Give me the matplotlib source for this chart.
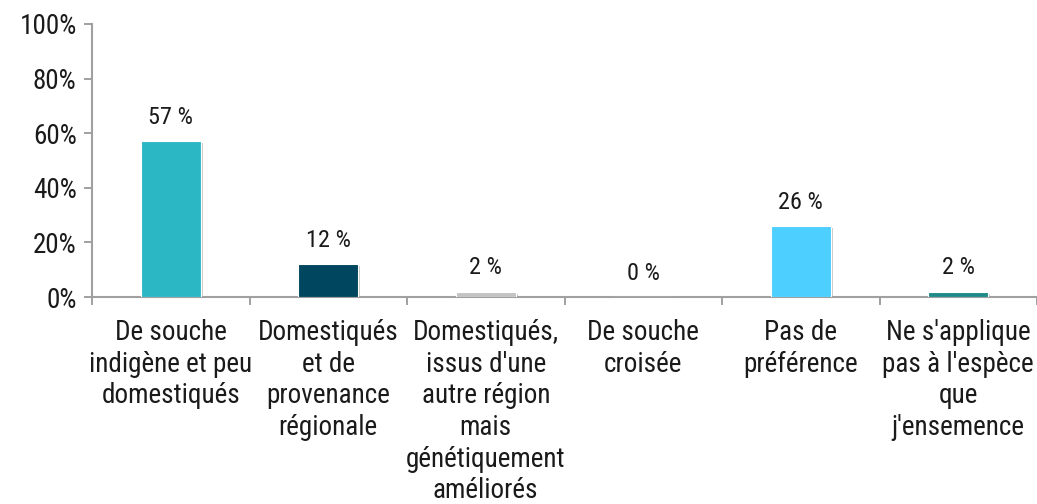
import matplotlib
matplotlib.use("Agg")
import matplotlib.pyplot as plt
import matplotlib.patheffects as pe
from matplotlib import font_manager
import numpy as np

# Category labels, shares (%) and bar colours
categories = [
    "De souche\nindigène et peu\ndomestiqués",
    "Domestiqués\net de\nprovenance\nrégionale",
    "Domestiqués,\nissus d'une\nautre région\nmais\ngénétiquement\naméliorés",
    "De souche\ncroisée",
    "Pas de\npréférence",
    "Ne s'applique\npas à l'espèce\nque\nj'ensemence",
]
shares = [57, 12, 2, 0, 26, 2]
colors = ["#2BB8C4", "#00465E", "#C3C3C3", "#2BB8C4", "#4DCFFF", "#1E8A8A"]
yticks = [0, 20, 40, 60, 80, 100]

# pick a condensed sans-serif that is actually installed
names = {f.name for f in font_manager.fontManager.ttflist}
wanted = ["Arial Narrow", "Liberation Sans Narrow", "Roboto Condensed",
          "PT Sans Narrow", "Archivo Narrow", "Asap Condensed"]
narrow = next((n for n in wanted if n in names), "DejaVu Sans")
plt.rcParams["font.family"] = [narrow, "DejaVu Sans"]

fig = plt.figure(figsize=(10.37, 5.04), dpi=100)
ax = fig.add_axes([92 / 1037, 207 / 504, 1 - 92 / 1037, 273 / 504])

x = np.arange(len(categories))
shadow = [pe.SimplePatchShadow(offset=(1.5, -1.5), shadow_rgbFace="#999999", alpha=0.5), pe.Normal()]
bars = ax.bar(x, shares, width=0.38, color=colors, edgecolor="white", linewidth=0.8, zorder=3)
for b in bars:
    b.set_path_effects(shadow)

for xi, v in zip(x, shares):
    ax.annotate(f"{v} %", (xi, v), xytext=(0, 9), textcoords="offset points",
                ha="center", va="bottom", fontsize=17.5, color="#1a1a1a")

ax.set_xlim(-0.5, len(categories) - 0.5)
ax.set_ylim(0, 100)
ax.set_yticks(yticks)
ax.set_yticklabels([f"{t}%" for t in yticks], fontsize=19.5, color="#1a1a1a")

ax.set_xticks(x)
ax.set_xticklabels(categories, fontsize=19.5, color="#1a1a1a", linespacing=1.22)
ax.tick_params(axis="x", which="major", length=0, pad=16)
ax.set_xticks(np.arange(len(categories) + 1) - 0.5, minor=True)
ax.tick_params(axis="x", which="minor", length=6, width=1.2, color="#909090")
ax.tick_params(axis="y", length=6, width=1.2, color="#909090", pad=5)

for side in ["top", "right"]:
    ax.spines[side].set_visible(False)
for side in ["left", "bottom"]:
    ax.spines[side].set_color("#A0A0A0")
    ax.spines[side].set_linewidth(1.5)

fig.savefig("out.png", dpi=100)
